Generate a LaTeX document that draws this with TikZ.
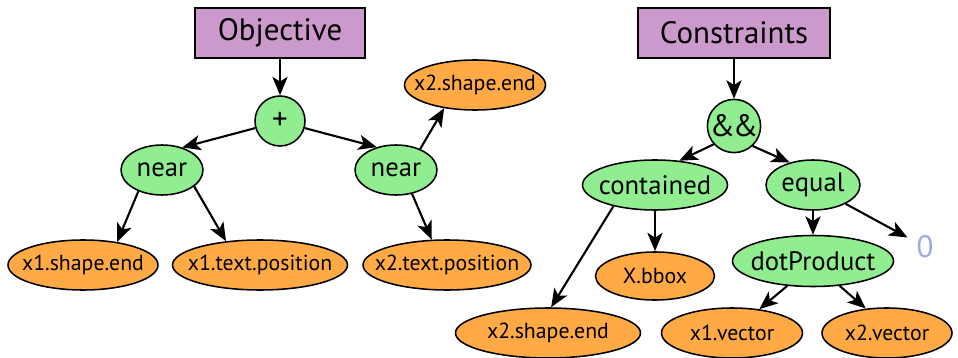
\documentclass[tikz,border=0pt]{standalone}
\usepackage{fontspec}
\setmainfont{PT Sans}
\usetikzlibrary{shapes.geometric,arrows.meta}
\pgfdeclarelayer{edgelayer}
\pgfdeclarelayer{nodelayer}
\pgfsetlayers{edgelayer,nodelayer,main}
\definecolor{boxfill}{HTML}{CC99CC}
\definecolor{opfill}{HTML}{90EE90}
\definecolor{leaffill}{HTML}{FFAA44}
\definecolor{valuecol}{HTML}{A0A8E8}
\tikzset{font=\fontsize{15.5}{18}\selectfont}
\tikzstyle{none}=[inner sep=0pt]
\tikzstyle{head}=[rectangle,draw,line width=1.1pt,fill=boxfill,minimum height=1.25cm,font=\fontsize{22}{26}\selectfont]
\tikzstyle{op}=[circle,draw,line width=1.1pt,fill=opfill,inner sep=0pt,minimum size=1.25cm,font=\fontsize{22}{26}\selectfont]
\tikzstyle{fn}=[ellipse,draw,line width=1.1pt,fill=opfill,inner xsep=-0.4cm,inner ysep=0pt,minimum height=1.25cm,font=\fontsize{19}{22}\selectfont]
\tikzstyle{leaf}=[ellipse,draw,line width=1.1pt,fill=leaffill,inner xsep=-0.4cm,inner ysep=0pt,minimum height=1.25cm]
\tikzstyle{value}=[text=valuecol,inner sep=0.22cm,font=\fontsize{22}{26}\selectfont]
\tikzstyle{flow}=[line width=1.5pt,-{Stealth[length=0.46cm,width=0.38cm,inset=0.12cm]}]

\begin{document}
\begin{tikzpicture}
	\useasboundingbox (0, 0) rectangle (23.95, -8.95);
	\begin{pgfonlayer}{nodelayer}
		\node [style=head, minimum width=4.25cm] (0) at (7, -0.825) {Objective};
		\node [style=op] (1) at (7, -3.025) {+};
		\node [style=fn, minimum width=2.05cm] (2) at (4.05, -4.25) {near};
		\node [style=fn, minimum width=2.05cm] (3) at (9.9, -4.25) {near};
		\node [style=leaf, minimum width=3.525cm] (4) at (11.875, -2.125) {x2.shape.end};
		\node [style=leaf, minimum width=3.75cm] (5) at (2.075, -6.625) {x1.shape.end};
		\node [style=leaf, minimum width=4.375cm] (6) at (6.5, -6.625) {x1.text.position};
		\node [style=leaf, minimum width=4.2cm] (7) at (11.175, -6.625) {x2.text.position};
		\node [style=head, minimum width=4.8cm] (8) at (18.35, -0.825) {Constraints};
		\node [style=op, minimum size=1.33cm] (9) at (18.35, -3.15) {\&\kern-1.5pt\&};
		\node [style=fn, minimum width=3.625cm] (10) at (16.375, -4.625) {contained};
		\node [style=fn, minimum width=2.35cm] (11) at (20.325, -4.625) {equal};
		\node [style=leaf, minimum width=2.975cm, minimum height=1.2cm] (12) at (16.375, -6.9) {X.bbox};
		\node [style=fn, minimum width=4.025cm, minimum height=1.275cm] (13) at (20.325, -6.525) {dotProduct};
		\node [style=value] (14) at (23.125, -6.175) {0};
		\node [style=leaf, minimum width=4.625cm] (15) at (13.7, -8.325) {x2.shape.end};
		\node [style=leaf, minimum width=3.525cm] (16) at (18.3, -8.325) {x1.vector};
		\node [style=leaf, minimum width=3.25cm] (17) at (22.175, -8.325) {x2.vector};
	\end{pgfonlayer}
	\begin{pgfonlayer}{edgelayer}
		\draw [style=flow] (0) to (1);
		\draw [style=flow] (1.196) to (2.48);
		\draw [style=flow] (1.344) to (3.130);
		\draw [style=flow] (3.41) to (4.217);
		\draw [style=flow] (2.222) to (5.34);
		\draw [style=flow] (2.333) to (6.145);
		\draw [style=flow] (3.304) to (7.121);
		\draw [style=flow] (8) to (9);
		\draw [style=flow] (9.222) to (10.45);
		\draw [style=flow] (9.313) to (11.136);
		\draw [style=flow] (10.207) to (15.83);
		\draw [style=flow] (10) to (12);
		\draw [style=flow] (11) to (13);
		\draw [style=flow] (11.330) to (14);
		\draw [style=flow] (13.224) to (16.41);
		\draw [style=flow] (13.317) to (17.131);
	\end{pgfonlayer}
\end{tikzpicture}
\end{document}
